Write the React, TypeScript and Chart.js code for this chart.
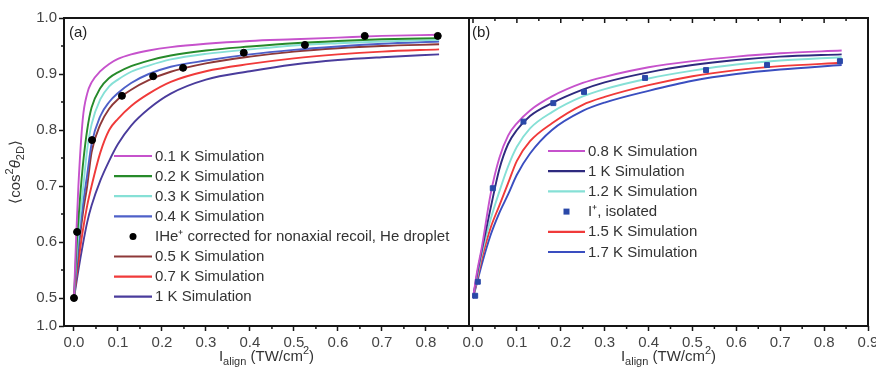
import React, { useEffect, useRef } from 'react';
import { Chart, registerables } from 'chart.js';
Chart.register(...registerables);

const FONT = '"Liberation Sans", Arial, Helvetica, sans-serif';

// ---------- Panel (a) ----------
const xA = [0, 0.005, 0.01, 0.02, 0.03, 0.04, 0.06, 0.08, 0.1, 0.13, 0.17, 0.22, 0.3, 0.4, 0.5, 0.6, 0.7, 0.83];
const simA01 = [0.5, 0.61, 0.7, 0.82, 0.865, 0.885, 0.905, 0.918, 0.927, 0.935, 0.942, 0.948, 0.954, 0.959, 0.962, 0.965, 0.968, 0.97];
const simA02 = [0.5, 0.58, 0.64, 0.735, 0.8, 0.84, 0.875, 0.893, 0.903, 0.914, 0.924, 0.933, 0.942, 0.949, 0.955, 0.959, 0.962, 0.964];
const simA03 = [0.5, 0.565, 0.615, 0.69, 0.765, 0.81, 0.855, 0.878, 0.89, 0.904, 0.915, 0.926, 0.936, 0.944, 0.951, 0.955, 0.958, 0.961];
const simA04 = [0.5, 0.55, 0.595, 0.665, 0.72, 0.775, 0.825, 0.85, 0.866, 0.884, 0.9, 0.913, 0.924, 0.935, 0.943, 0.949, 0.954, 0.958];
const simA05 = [0.5, 0.545, 0.585, 0.65, 0.7, 0.76, 0.81, 0.838, 0.855, 0.872, 0.889, 0.904, 0.919, 0.931, 0.94, 0.946, 0.95, 0.953];
const simA07 = [0.5, 0.535, 0.565, 0.62, 0.665, 0.7, 0.76, 0.8, 0.82, 0.843, 0.865, 0.886, 0.905, 0.918, 0.928, 0.935, 0.94, 0.944];
const simA10 = [0.5, 0.525, 0.55, 0.595, 0.635, 0.665, 0.71, 0.745, 0.775, 0.808, 0.838, 0.865, 0.89, 0.905, 0.917, 0.925, 0.93, 0.935];
const dotsAX = [0, 0.007, 0.041, 0.109, 0.18, 0.248, 0.386, 0.525, 0.661, 0.827];
const dotsAY = [0.5, 0.618, 0.782, 0.861, 0.896, 0.911, 0.938, 0.952, 0.968, 0.968];

// ---------- Panel (b) ----------
const xB = [0, 0.01, 0.02, 0.04, 0.06, 0.08, 0.1, 0.13, 0.18, 0.25, 0.3, 0.4, 0.5, 0.6, 0.7, 0.84];
const simB08 = [0.5, 0.55, 0.59, 0.685, 0.75, 0.79, 0.812, 0.835, 0.86, 0.884, 0.895, 0.912, 0.923, 0.931, 0.937, 0.942];
const simB10 = [0.5, 0.545, 0.585, 0.66, 0.73, 0.775, 0.8, 0.825, 0.848, 0.872, 0.885, 0.903, 0.916, 0.925, 0.931, 0.935];
const simB12 = [0.5, 0.54, 0.578, 0.64, 0.69, 0.735, 0.77, 0.803, 0.832, 0.86, 0.873, 0.892, 0.906, 0.917, 0.924, 0.93];
const simB15 = [0.5, 0.535, 0.57, 0.625, 0.665, 0.705, 0.745, 0.78, 0.812, 0.845, 0.859, 0.88, 0.896, 0.907, 0.914, 0.92];
const simB17 = [0.5, 0.53, 0.56, 0.612, 0.652, 0.685, 0.72, 0.758, 0.8, 0.834, 0.849, 0.87, 0.888, 0.9, 0.908, 0.916];
const sqBX = [0.005, 0.011, 0.045, 0.115, 0.183, 0.253, 0.392, 0.531, 0.67, 0.836];
const sqBY = [0.504, 0.529, 0.696, 0.815, 0.848, 0.868, 0.893, 0.907, 0.916, 0.923];

// ---------- Axes ----------
const yTickValues = [0.45, 0.5, 0.6, 0.7, 0.8, 0.9, 1.0];
const yTickLabels = ['1.0', '0.5', '0.6', '0.7', '0.8', '0.9', '1.0'];
const yMinorValues = [0.55, 0.65, 0.75, 0.85, 0.95];
const xTicksA = [0, 0.1, 0.2, 0.3, 0.4, 0.5, 0.6, 0.7, 0.8];
const xTicksB = [0, 0.1, 0.2, 0.3, 0.4, 0.5, 0.6, 0.7, 0.8, 0.9];
const xMinorA = [0.05, 0.15, 0.25, 0.35, 0.45, 0.55, 0.65, 0.75, 0.85];
const xMinorB = [0.05, 0.15, 0.25, 0.35, 0.45, 0.55, 0.65, 0.75, 0.85];

const zip = (xs: number[], ys: number[]) => xs.map((x, i) => ({ x, y: ys[i] }));

type Part = { t: string; s?: 'sup' | 'sub' | 'it' };

function drawRich(ctx: CanvasRenderingContext2D, parts: Part[], x: number, y: number, size: number) {
  const small = Math.round(size * 0.72);
  const fontOf = (p: Part) =>
    p.s === 'sup' || p.s === 'sub' ? `${small}px ${FONT}` : p.s === 'it' ? `italic ${size}px ${FONT}` : `${size}px ${FONT}`;
  let total = 0;
  const widths = parts.map((p) => {
    ctx.font = fontOf(p);
    const w = ctx.measureText(p.t).width;
    total += w;
    return w;
  });
  let cx = x - total / 2;
  ctx.textBaseline = 'middle';
  ctx.textAlign = 'left';
  parts.forEach((p, i) => {
    ctx.font = fontOf(p);
    const dy = p.s === 'sup' ? -size * 0.38 : p.s === 'sub' ? size * 0.32 : 0;
    ctx.fillText(p.t, cx, y + dy);
    cx += widths[i];
  });
}

type Decor = {
  label: string;
  labelX: number;
  leftAxis: boolean;
  topTicks: boolean;
  xMinor: number[];
  legend: { x0: number; x1: number; y0: number; step: number };
};

function makeDecor(d: Decor) {
  return {
    id: 'decor',
    afterDraw(chart: any) {
      const ctx: CanvasRenderingContext2D = chart.ctx;
      const { left, right, top, bottom } = chart.chartArea;
      const xs = chart.scales.x;
      const ys = chart.scales.y;
      ctx.save();
      // frame
      ctx.strokeStyle = '#151515';
      ctx.lineWidth = 2;
      ctx.strokeRect(left, top, right - left, bottom - top);
      // minor ticks bottom
      ctx.lineWidth = 1.5;
      d.xMinor.forEach((v) => {
        const px = xs.getPixelForValue(v);
        if (px < left || px > right) return;
        ctx.beginPath();
        ctx.moveTo(px, bottom);
        ctx.lineTo(px, bottom + 3);
        ctx.stroke();
      });
      if (d.leftAxis) {
        yMinorValues.forEach((v) => {
          const py = ys.getPixelForValue(v);
          ctx.beginPath();
          ctx.moveTo(left, py);
          ctx.lineTo(left - 3, py);
          ctx.stroke();
        });
      }
      if (d.topTicks) {
        xTicksB.forEach((v) => {
          const px = xs.getPixelForValue(v);
          if (px < left || px > right - 2) return;
          ctx.beginPath();
          ctx.moveTo(px, top);
          ctx.lineTo(px, top + 5);
          ctx.stroke();
        });
        xMinorB.forEach((v) => {
          const px = xs.getPixelForValue(v);
          ctx.beginPath();
          ctx.moveTo(px, top);
          ctx.lineTo(px, top + 3);
          ctx.stroke();
        });
      }
      // panel label
      ctx.fillStyle = '#222';
      ctx.font = `15px ${FONT}`;
      ctx.textAlign = 'left';
      ctx.textBaseline = 'middle';
      ctx.fillText(d.label, d.labelX, 33);
      // x title
      ctx.fillStyle = '#333';
      drawRich(
        ctx,
        [{ t: 'I' }, { t: 'align', s: 'sub' }, { t: ' (TW/cm' }, { t: '2', s: 'sup' }, { t: ')' }],
        (left + right) / 2,
        357,
        15
      );
      // y title
      if (d.leftAxis) {
        ctx.save();
        ctx.translate(16, 172);
        ctx.rotate(-Math.PI / 2);
        drawRich(
          ctx,
          [{ t: '\u27E8cos' }, { t: '2', s: 'sup' }, { t: '\u03B8', s: 'it' }, { t: '2D', s: 'sub' }, { t: '\u27E9' }],
          0,
          0,
          15
        );
        ctx.restore();
      }
      // legend
      const L = d.legend;
      chart.data.datasets.forEach((ds: any, i: number) => {
        const y = L.y0 + i * L.step;
        if (ds.showLine === false) {
          const cx = (L.x0 + L.x1) / 2;
          ctx.fillStyle = ds.pointBackgroundColor;
          if (ds.pointStyle === 'rect') {
            ctx.fillRect(cx - 3, y - 3, 6, 6);
          } else {
            ctx.beginPath();
            ctx.arc(cx, y, 3.5, 0, Math.PI * 2);
            ctx.fill();
          }
        } else {
          ctx.strokeStyle = ds.borderColor;
          ctx.lineWidth = 2.2;
          ctx.beginPath();
          ctx.moveTo(L.x0, y);
          ctx.lineTo(L.x1, y);
          ctx.stroke();
        }
        ctx.fillStyle = '#333';
        ctx.font = `15px ${FONT}`;
        ctx.textAlign = 'left';
        ctx.textBaseline = 'middle';
        ctx.fillText(ds.label, L.x1 + 3, y + 0.5);
      });
      ctx.restore();
    },
  };
}

const lineDs = (label: string, xs: number[], ys: number[], color: string) => ({
  label,
  data: zip(xs, ys),
  borderColor: color,
  backgroundColor: color,
  borderWidth: 1.9,
  pointRadius: 0,
  cubicInterpolationMode: 'monotone',
  order: 2,
});

const pointDs = (label: string, xs: number[], ys: number[], color: string, style: string, r: number) => ({
  label,
  data: zip(xs, ys),
  showLine: false,
  pointStyle: style,
  pointRadius: r,
  pointBackgroundColor: color,
  pointBorderColor: color,
  borderColor: color,
  backgroundColor: color,
  order: 0,
});

function axisX(min: number, max: number, ticks: number[]) {
  return {
    type: 'linear',
    min,
    max,
    afterBuildTicks: (s: any) => {
      s.ticks = ticks.map((v) => ({ value: v }));
    },
    afterFit: (s: any) => {
      s.height = 48;
      s.paddingLeft = 0;
      s.paddingRight = 0;
    },
    ticks: {
      autoSkip: false,
      maxRotation: 0,
      minRotation: 0,
      padding: 3,
      color: '#444',
      font: { family: FONT, size: 15 },
      callback: (v: any) => Number(v).toFixed(1),
    },
    grid: { display: true, drawOnChartArea: false, drawTicks: true, tickLength: 5, tickWidth: 1.5, tickColor: '#151515' },
    border: { display: false },
  };
}

function axisY(show: boolean) {
  return {
    type: 'linear',
    min: 0.45,
    max: 1.0,
    display: show,
    afterBuildTicks: (s: any) => {
      s.ticks = yTickValues.map((v) => ({ value: v }));
    },
    afterFit: (s: any) => {
      if (show) s.width = 64;
      s.paddingTop = 0;
      s.paddingBottom = 0;
    },
    ticks: {
      autoSkip: false,
      padding: 2,
      color: '#444',
      font: { family: FONT, size: 15 },
      callback: (v: any) => {
        const i = yTickValues.findIndex((t) => Math.abs(t - Number(v)) < 1e-6);
        return i >= 0 ? yTickLabels[i] : '';
      },
    },
    grid: { display: true, drawOnChartArea: false, drawTicks: true, tickLength: 5, tickWidth: 1.5, tickColor: '#151515' },
    border: { display: false },
  };
}

function PanelA() {
  const ref = useRef<HTMLCanvasElement>(null);
  useEffect(() => {
    const chart = new Chart(ref.current as HTMLCanvasElement, {
      type: 'line',
      data: {
        datasets: [
          lineDs('0.1 K Simulation', xA, simA01, '#c652cc'),
          lineDs('0.2 K Simulation', xA, simA02, '#268a2a'),
          lineDs('0.3 K Simulation', xA, simA03, '#86e0d6'),
          lineDs('0.4 K Simulation', xA, simA04, '#4e60c8'),
          pointDs('IHe\u207A corrected for nonaxial recoil, He droplet', dotsAX, dotsAY, '#000000', 'circle', 3.5),
          lineDs('0.5 K Simulation', xA, simA05, '#8e3838'),
          lineDs('0.7 K Simulation', xA, simA07, '#f03a3a'),
          lineDs('1 K Simulation', xA, simA10, '#4a3c9c'),
        ] as any,
      },
      options: {
        responsive: false,
        animation: false,
        devicePixelRatio: 1,
        layout: { autoPadding: false, padding: { left: 0, right: 1, top: 18, bottom: 0 } },
        plugins: { legend: { display: false }, tooltip: { enabled: false } },
        scales: { x: axisX(-0.0227, 0.898, xTicksA), y: axisY(true) } as any,
      } as any,
      plugins: [
        makeDecor({
          label: '(a)',
          labelX: 69,
          leftAxis: true,
          topTicks: false,
          xMinor: xMinorA,
          legend: { x0: 114, x1: 152, y0: 156, step: 20.1 },
        }),
      ],
    });
    return () => chart.destroy();
  }, []);
  return <canvas ref={ref} width={470} height={374} style={{ position: 'absolute', left: 0, top: 0 }} />;
}

function PanelB() {
  const ref = useRef<HTMLCanvasElement>(null);
  useEffect(() => {
    const chart = new Chart(ref.current as HTMLCanvasElement, {
      type: 'line',
      data: {
        datasets: [
          lineDs('0.8 K Simulation', xB, simB08, '#c652cc'),
          lineDs('1 K Simulation', xB, simB10, '#2e2a7e'),
          lineDs('1.2 K Simulation', xB, simB12, '#86e0d6'),
          pointDs('I\u207A, isolated', sqBX, sqBY, '#2a48a8', 'rect', 3.5),
          lineDs('1.5 K Simulation', xB, simB15, '#f03a3a'),
          lineDs('1.7 K Simulation', xB, simB17, '#3a4ec0'),
        ] as any,
      },
      options: {
        responsive: false,
        animation: false,
        devicePixelRatio: 1,
        layout: { autoPadding: false, padding: { left: 29, right: 8, top: 18, bottom: 0 } },
        plugins: { legend: { display: false }, tooltip: { enabled: false } },
        scales: { x: axisX(-0.0091, 0.9, xTicksB), y: axisY(false) } as any,
      } as any,
      plugins: [
        makeDecor({
          label: '(b)',
          labelX: 32,
          leftAxis: false,
          topTicks: true,
          xMinor: xMinorB,
          legend: { x0: 108, x1: 145, y0: 151, step: 20.2 },
        }),
      ],
    });
    return () => chart.destroy();
  }, []);
  return <canvas ref={ref} width={436} height={374} style={{ position: 'absolute', left: 440, top: 0 }} />;
}

export default function App() {
  return (
    <div style={{ position: 'absolute', left: 0, top: 0, width: 876, height: 374, background: '#fff' }}>
      <PanelA />
      <PanelB />
    </div>
  );
}
